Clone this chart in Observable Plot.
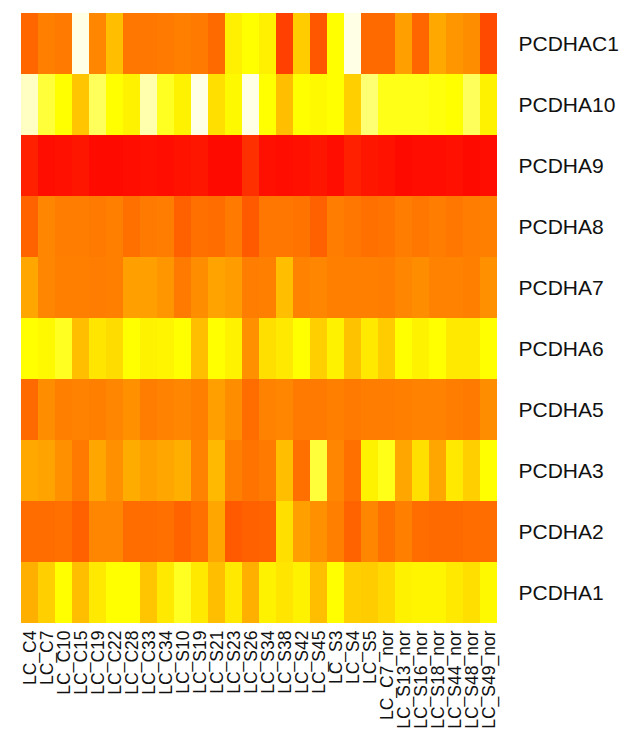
<!DOCTYPE html>
<html>
<head>
<meta charset="utf-8">
<script src="https://cdn.jsdelivr.net/npm/d3@7"></script>
<script src="https://cdn.jsdelivr.net/npm/@observablehq/plot@0.6"></script>
<style>
  html, body { margin: 0; padding: 0; background: #fff; }
  svg { display: block; }
</style>
</head>
<body>
<div id="chart"></div>
<script>
const samples = ["LC_C4","LC_C7","LC_C10","LC_C15","LC_C19","LC_C22","LC_C28","LC_C33","LC_C34","LC_S10","LC_S19","LC_S21","LC_S23","LC_S26","LC_S34","LC_S38","LC_S42","LC_S45","LC_S3","LC_S4","LC_S5","LC_C7_nor","LC_S13_nor","LC_S16_nor","LC_S18_nor","LC_S44_nor","LC_S48_nor","LC_S49_nor"];
const genes = ["PCDHAC1","PCDHA10","PCDHA9","PCDHA8","PCDHA7","PCDHA6","PCDHA5","PCDHA3","PCDHA2","PCDHA1"];

// relative expression level (0 = red, 1 = pale white)
const PCDHAC1 = [0.32,0.40,0.38,1.00,0.42,0.60,0.37,0.37,0.38,0.40,0.38,0.33,0.75,0.80,0.75,0.20,0.64,0.27,0.80,1.00,0.33,0.33,0.50,0.32,0.53,0.47,0.44,0.23];
const PCDHA10 = [0.97,0.85,0.80,0.62,0.88,0.80,0.76,0.95,0.83,0.76,1.00,0.70,0.78,1.00,0.80,0.60,0.80,0.78,0.80,0.65,0.90,0.82,0.82,0.82,0.81,0.80,0.88,0.76];
const PCDHA9  = [0.10,0.04,0.05,0.07,0.03,0.03,0.04,0.05,0.04,0.06,0.07,0.03,0.03,0.15,0.05,0.04,0.05,0.07,0.04,0.10,0.07,0.06,0.03,0.04,0.04,0.05,0.03,0.04];
const PCDHA8  = [0.31,0.42,0.39,0.39,0.38,0.40,0.35,0.38,0.39,0.30,0.35,0.34,0.38,0.28,0.37,0.37,0.36,0.30,0.39,0.37,0.35,0.36,0.39,0.37,0.39,0.37,0.39,0.40];
const PCDHA7  = [0.52,0.42,0.40,0.40,0.39,0.40,0.50,0.50,0.47,0.38,0.44,0.51,0.49,0.39,0.40,0.60,0.41,0.42,0.40,0.40,0.40,0.39,0.42,0.44,0.41,0.41,0.40,0.45];
const PCDHA6  = [0.80,0.78,0.83,0.60,0.72,0.69,0.80,0.76,0.77,0.80,0.60,0.80,0.76,0.45,0.70,0.73,0.80,0.65,0.76,0.61,0.73,0.64,0.80,0.76,0.80,0.73,0.73,0.80];
const PCDHA5  = [0.33,0.44,0.40,0.41,0.40,0.42,0.45,0.39,0.41,0.42,0.40,0.50,0.44,0.34,0.41,0.42,0.38,0.38,0.40,0.38,0.39,0.39,0.40,0.41,0.41,0.39,0.38,0.44];
const PCDHA3  = [0.53,0.51,0.45,0.38,0.52,0.45,0.54,0.50,0.52,0.55,0.41,0.58,0.40,0.36,0.38,0.60,0.35,0.85,0.42,0.35,0.76,0.82,0.52,0.70,0.52,0.73,0.65,0.80];
const PCDHA2  = [0.34,0.34,0.35,0.30,0.42,0.42,0.34,0.34,0.35,0.31,0.35,0.52,0.28,0.30,0.31,0.70,0.50,0.45,0.40,0.31,0.42,0.35,0.40,0.34,0.33,0.33,0.34,0.34];
const PCDHA1  = [0.55,0.65,0.80,0.60,0.73,0.80,0.80,0.62,0.73,0.83,0.73,0.60,0.73,0.55,0.76,0.72,0.76,0.60,0.80,0.65,0.64,0.68,0.76,0.77,0.77,0.73,0.70,0.78];

const rowsByGene = {PCDHAC1, PCDHA10, PCDHA9, PCDHA8, PCDHA7, PCDHA6, PCDHA5, PCDHA3, PCDHA2, PCDHA1};
const heatStops = ["#ff0000","#ff4000","#ff8000","#ffbf00","#ffff00","#ffffe6"];

const table = [];
for (const g of genes) {
  rowsByGene[g].forEach((v, i) => table.push({gene: g, sample: samples[i], value: v}));
}

const chart = Plot.plot({
  width: 633,
  height: 737,
  marginLeft: 11,
  marginRight: 127,
  marginTop: 12,
  marginBottom: 114,
  style: {fontFamily: "'Liberation Sans', Arial, sans-serif", color: "#111"},
  x: {domain: samples, padding: 0, axis: null},
  y: {domain: genes, padding: 0, axis: null},
  color: {type: "linear", domain: [0, 1], interpolate: d3.piecewise(d3.interpolateRgb, heatStops)},
  marks: [
    Plot.cell(table, {x: "sample", y: "gene", fill: "value"}),
    Plot.axisX({anchor: "bottom", tickSize: 0, tickPadding: 7, tickRotate: -90, fontSize: 17.5, label: null}),
    Plot.axisY({anchor: "right", tickSize: 0, tickPadding: 12, fontSize: 21, textAnchor: "start", label: null})
  ]
});
document.getElementById("chart").appendChild(chart);
</script>
</body>
</html>
